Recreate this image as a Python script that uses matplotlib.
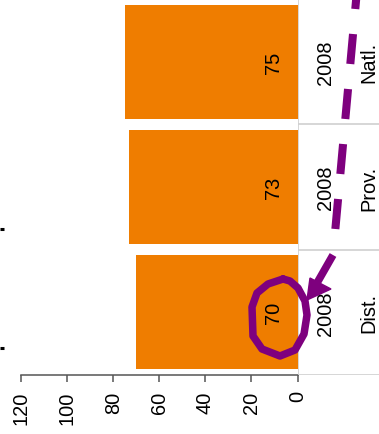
import matplotlib
matplotlib.use('Agg')

import matplotlib.pyplot as plt

# ---------- DATA ----------
regions = ["Dist.", "Prov.", "Natl."]
years = ["2008", "2008", "2008"]
scores = [70, 73, 75]
ticks = [0, 20, 40, 60, 80, 100, 120]

# ---------- STYLE ----------
plt.rcParams['font.family'] = ['Liberation Sans', 'DejaVu Sans']
orange = '#ef7d00'
purple = '#7e007e'
grid_grey = '#cfcfcf'
font_size = 14.4

W, H = 379, 435
fig = plt.figure(figsize=(W / 100, H / 100), dpi=100)

# ---------- BARS ----------
ax = fig.add_axes([21 / W, 59 / H, 276.5 / W, 376 / H])
positions = list(range(len(regions)))
ax.barh(positions, scores, height=0.91, color=orange)

for pos, value in zip(positions, scores):
    ax.text(10.4, pos, str(value), rotation=90, ha='center', va='center',
            fontsize=font_size)

ax.set_xlim(120, 0)
ax.set_ylim(-0.5, 2.5)
ax.set_xticks(ticks)
ax.set_xticklabels([str(t) for t in ticks], rotation=90, fontsize=font_size)
ax.set_yticks([])
ax.tick_params(axis='x', direction='out', length=5, width=1.1,
               color='#555555', pad=6)
for side in ['top', 'left', 'right']:
    ax.spines[side].set_visible(False)
ax.spines['bottom'].set_color('#555555')
ax.spines['bottom'].set_linewidth(1.1)

# ---------- LABEL PANEL ----------
panel = fig.add_axes([298 / W, 59 / H, 81 / W, 376 / H])
panel.set_xlim(0, 1)
panel.set_ylim(-0.5, 2.5)
panel.axis('off')
panel.axvline(0, color=grid_grey, lw=1.2)
for edge in [-0.5, 0.5, 1.5]:
    panel.axhline(edge, color=grid_grey, lw=1.2)
for pos, year, region in zip(positions, years, regions):
    panel.text(0.34, pos, year, rotation=90, ha='center', va='center',
               fontsize=font_size)
    panel.text(0.88, pos, region, rotation=90, ha='center', va='center',
               fontsize=font_size)

# ---------- HAND DRAWN MARKUP ----------
over = fig.add_axes([0, 0, 1, 1])
over.set_xlim(0, W)
over.set_ylim(H, 0)
over.axis('off')

# stray ticks from the cut-off axis on the left
for y in [230, 349]:
    over.plot([0, 3.5], [y, y], color='black', lw=2.2, solid_capstyle='butt')

# dashed pen stroke, one segment per dash (pixel space, y grows downward)
x0, y0, x1, y1 = 358, -20, 335, 234
dash_len, period = 30, 55
start = y0
while start < y1:
    end = min(start + dash_len, y1)
    xs = [x0 + (x1 - x0) * (s - y0) / (y1 - y0) for s in (start, end)]
    over.plot(xs, [start, end], color=purple, lw=5.8, solid_capstyle='butt')
    start += period

over.plot([333, 317], [256, 284], color=purple, lw=5.5, solid_capstyle='butt')
over.add_patch(plt.Polygon([[310, 279], [331, 290], [307, 301]],
                           closed=True, color=purple))

loop_x = [283, 268, 257, 252, 253, 262, 280, 295, 304, 307, 305, 298, 290, 283]
loop_y = [280, 285, 294, 308, 337, 350, 357, 351, 335, 316, 302, 289, 282, 280]
over.plot(loop_x, loop_y, color=purple, lw=5.4, solid_joinstyle='round',
          solid_capstyle='round')

fig.savefig('out.png', dpi=100)
